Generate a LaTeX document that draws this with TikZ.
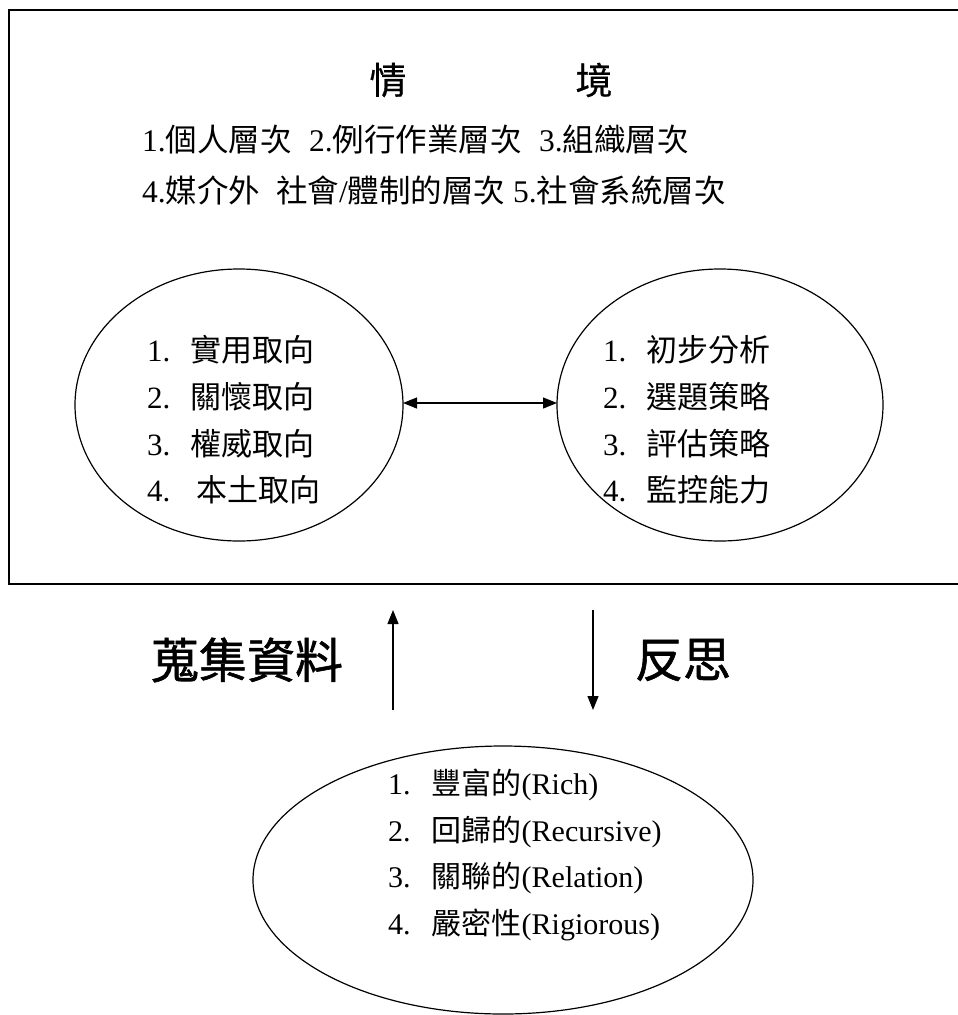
\documentclass[tikz,border=0pt]{standalone}
\usepackage{fontspec}
\setmainfont{Liberation Serif}
\newfontfamily\cjk{Noto Sans CJK TC}
\newfontfamily\cjkbig[FakeBold=1.2]{Noto Sans CJK TC}
\newfontfamily\cjktitle[FakeBold=0.6]{Noto Sans CJK TC}
\usetikzlibrary{arrows.meta,shapes.geometric}
\tikzset{
  frame/.style={draw, line width=2.2pt},
  oval/.style={draw, line width=1.2pt},
  itemtext/.style={anchor=west, inner sep=0pt, font=\fontsize{31}{36}\selectfont},
  bottext/.style={anchor=west, inner sep=0pt, font=\fontsize{30}{36}\selectfont},
  linetext/.style={anchor=west, inner sep=0pt, font=\fontsize{31.5}{36}\selectfont},
  titletext/.style={inner sep=0pt, font=\fontsize{37}{42}\selectfont\cjktitle},
  bigtext/.style={inner sep=0pt, font=\fontsize{48}{56}\selectfont\cjkbig},
  conn/.style={line width=1.2pt, -{Triangle[length=14pt,width=11pt]}},
  biconn/.style={line width=1.2pt, {Triangle[length=14pt,width=11pt]}-{Triangle[length=14pt,width=11pt]}},
}
\begin{document}
\begin{tikzpicture}[x=1pt,y=-1pt]
\useasboundingbox (0,0) rectangle (958,1015);
% outer frame (right side runs off the picture)
\draw[frame] (970,10) -- (9,10) -- (9,584) -- (970,584);
% title
\node[titletext] (t1) at (388,80) {情};
\node[titletext] (t2) at (594,80) {境};
% levels
\node[linetext] (l1) at (142,140) {1.{\cjk 個人層次}\hspace{0.55em}2.{\cjk 例行作業層次}\hspace{0.55em}3.{\cjk 組織層次}};
\node[linetext] (l2) at (142,190) {4.{\cjk 媒介外}\hspace{0.5em}{\cjk 社會}/{\cjk 體制的層次}\hspace{0.25em}5.{\cjk 社會系統層次}};
% ellipses
\draw[oval] (239,405) ellipse (164pt and 136pt);
\draw[oval] (720,405) ellipse (163pt and 136pt);
\coordinate (le) at (403,403);
\coordinate (re) at (557,403);
\draw[biconn] (le) -- (re);
% left items
\node[itemtext] (a1) at (147,350) {1.\hspace{0.65em}{\cjk 實用取向}};
\node[itemtext] (a2) at (147,397) {2.\hspace{0.65em}{\cjk 關懷取向}};
\node[itemtext] (a3) at (147,444) {3.\hspace{0.65em}{\cjk 權威取向}};
\node[itemtext] (a4) at (147,490) {4.\hspace{0.85em}{\cjk 本土取向}};
% right items
\node[itemtext] (b1) at (603,350) {1.\hspace{0.65em}{\cjk 初步分析}};
\node[itemtext] (b2) at (603,397) {2.\hspace{0.65em}{\cjk 選題策略}};
\node[itemtext] (b3) at (603,444) {3.\hspace{0.65em}{\cjk 評估策略}};
\node[itemtext] (b4) at (603,490) {4.\hspace{0.65em}{\cjk 監控能力}};
% middle
\node[bigtext] (g) at (247,660) {蒐集資料};
\node[bigtext] (f) at (683,660) {反思};
\coordinate (u0) at (393,710);
\coordinate (u1) at (393,610);
\coordinate (d0) at (593,610);
\coordinate (d1) at (593,710);
\draw[conn] (u0) -- (u1);
\draw[conn] (d0) -- (d1);
% bottom ellipse
\draw[oval] (503,880) ellipse (250pt and 134pt);
\node[bottext] (c1) at (388,785) {1.\hspace{0.7em}{\cjk 豐富的}(Rich)};
\node[bottext] (c2) at (388,832) {2.\hspace{0.7em}{\cjk 回歸的}(Recursive)};
\node[bottext] (c3) at (388,878) {3.\hspace{0.7em}{\cjk 關聯的}(Relation)};
\node[bottext] (c4) at (388,925) {4.\hspace{0.7em}{\cjk 嚴密性}(Rigiorous)};
\end{tikzpicture}
\end{document}
